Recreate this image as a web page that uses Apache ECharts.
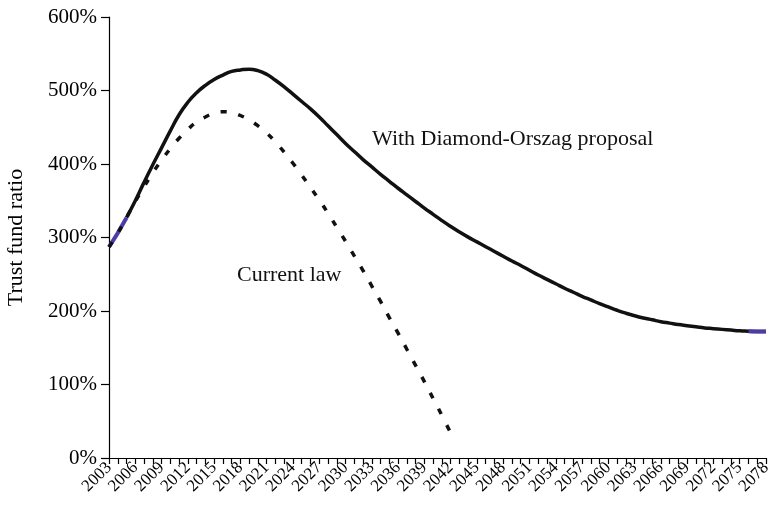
<!DOCTYPE html>
<html>
<head>
<meta charset="utf-8">
<script src="https://cdn.jsdelivr.net/npm/echarts@6/dist/echarts.min.js"></script>
<style>
html,body{margin:0;padding:0;background:#fff;}
#chart{width:768px;height:508px;}
</style>
</head>
<body>
<div id="chart"></div>
<script>
// Years 2003..2078
const years = [];
for (let y = 2003; y <= 2078; y++) years.push(String(y));

// Trust fund ratio (%), with Diamond-Orszag proposal
const withProposal = [
  287, 306, 327, 350, 375, 399, 422, 445, 467, 484,
  497, 507, 515, 521, 526, 528, 529, 527, 522, 514,
  505, 495, 485, 475, 464, 452, 440, 428, 417, 406,
  396, 386, 376.5, 367, 358, 349, 340, 331.5, 323, 315,
  307.5, 300.5, 294, 287.5, 281, 274.5, 268, 262, 255.5, 249,
  243, 237, 231, 225.5, 220, 215, 210, 205.5, 201, 197,
  193.5, 190.5, 188, 185.5, 183.5, 181.5, 180, 178.5, 177, 176,
  175, 174, 173, 172.5, 172, 172
];

// Trust fund ratio (%), current law (2003..2042)
const currentLaw = [
  287, 306, 327, 349, 369, 388, 405, 421, 435, 447,
  457, 464, 469, 471, 470, 466, 460, 452, 442, 430,
  416, 401, 385, 368, 351, 333, 314, 295, 275, 255,
  234, 213, 191, 170, 148, 126, 104, 81, 58, 34
];

// Highlighted (purple) year ranges on the proposal line
const highlightRanges = [['2003', '2005'], ['2076', '2078']];

const yTicks = [0, 100, 200, 300, 400, 500, 600];

const inRange = (yr) => highlightRanges.some(r => yr >= r[0] && yr <= r[1]);
const blackSolid = withProposal.map((v, i) => years[i] >= '2005' ? v : null);
const purple = withProposal.map((v, i) => inRange(years[i]) ? v : null);

const FONT = 'Liberation Serif';
const chart = echarts.init(document.getElementById('chart'));
chart.setOption({
  backgroundColor: '#fff',
  animation: false,
  grid: { left: 109, right: 2, top: 17, bottom: 50, containLabel: false, outerBoundsMode: 'none' },
  xAxis: {
    type: 'category',
    data: years,
    boundaryGap: false,
    axisLine: { lineStyle: { color: '#000', width: 1.2 } },
    axisTick: { interval: 0, length: 6, lineStyle: { color: '#000', width: 1.2 } },
    axisLabel: {
      interval: 2, rotate: 45, margin: 7,
      fontFamily: FONT, fontSize: 17, color: '#000'
    },
    splitLine: { show: false }
  },
  yAxis: {
    type: 'value',
    min: yTicks[0], max: yTicks[yTicks.length - 1], interval: 100,
    name: 'Trust fund ratio',
    nameLocation: 'middle', nameRotate: 90, nameGap: 82,
    nameTextStyle: { fontFamily: FONT, fontSize: 22, color: '#000' },
    axisLine: { show: true, lineStyle: { color: '#000', width: 1.2 } },
    axisTick: { show: true, length: 8, lineStyle: { color: '#000', width: 1.2 } },
    axisLabel: {
      formatter: '{value}%', margin: 12,
      fontFamily: FONT, fontSize: 21, color: '#000'
    },
    splitLine: { show: false }
  },
  series: [
    {
      name: 'With Diamond-Orszag proposal', type: 'line', data: blackSolid,
      symbol: 'none', connectNulls: false, z: 2,
      smooth: 0.5,
      lineStyle: { color: '#111', width: 3.5 }
    },
    {
      name: 'Historical', type: 'line', data: purple,
      symbol: 'none', connectNulls: false, z: 3,
      lineStyle: { color: '#4B3CA7', width: 4 }
    },
    {
      name: 'Current law', type: 'line', data: currentLaw,
      symbol: 'none', z: 4,
      smooth: 0.5,
      lineStyle: { color: '#111', width: 3.5, type: [6, 12], cap: 'butt' }
    }
  ],
  graphic: [
    { type: 'text', left: 372, top: 128,
      style: { text: 'With Diamond-Orszag proposal', font: '22px "Liberation Serif"', fill: '#111' } },
    { type: 'text', left: 237, top: 264,
      style: { text: 'Current law', font: '22px "Liberation Serif"', fill: '#111' } }
  ]
});
</script>
</body>
</html>
